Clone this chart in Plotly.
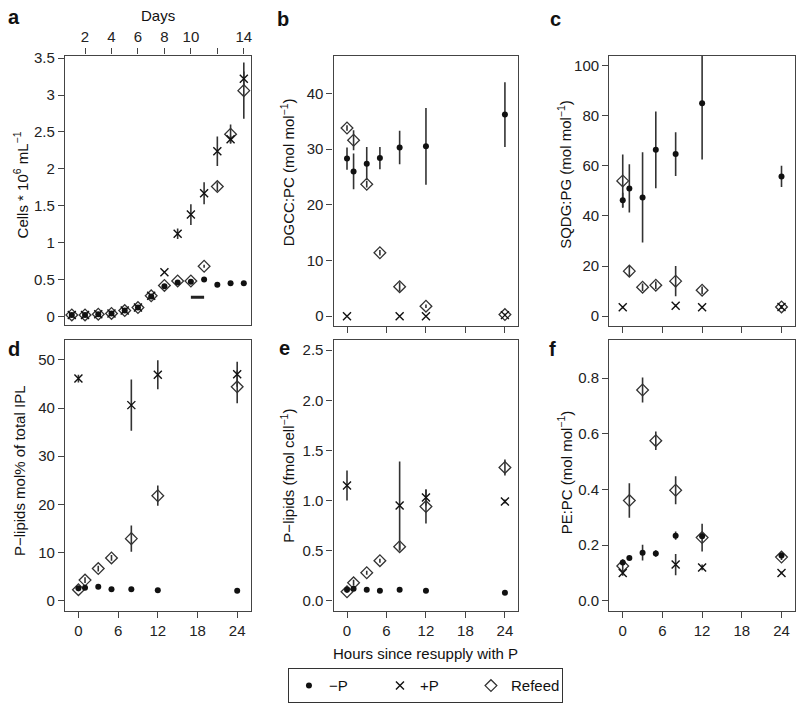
import plotly.graph_objects as go

W, H = 797, 710

# ---------------- data ----------------
days = [1, 2, 3, 4, 5, 6, 7, 8, 9, 10, 11, 12, 13, 14]
a_minusP = [0.02, 0.02, 0.03, 0.04, 0.08, 0.12, 0.27, 0.41, 0.46, 0.47, 0.50, 0.43, 0.45, 0.45]
a_minusP_err = [0, 0, 0, 0, 0, 0, 0.01, 0.01, 0.01, 0.01, 0.01, 0.01, 0.01, 0.01]
a_plusP = [0.02, 0.02, 0.03, 0.04, 0.08, 0.12, 0.28, 0.60, 1.12, 1.38, 1.67, 2.24, 2.40, 3.22]
a_plusP_err = [0, 0, 0, 0, 0.02, 0.02, 0.02, 0.01, 0.07, 0.14, 0.15, 0.20, 0.05, 0.10]
a_refeed = [0.02, 0.02, 0.03, 0.04, 0.08, 0.12, 0.28, 0.42, 0.48, 0.48, 0.68, 1.76, 2.47, 3.06]
a_refeed_err = [0, 0, 0, 0, 0, 0, 0.01, 0.01, 0.01, 0.01, 0.02, 0.06, 0.13, 0.38]
resupply_days = [10, 11]
resupply_level = [0.26, 0.26]
day_ticks = [2, 4, 6, 8, 10, 14]
day_minor_ticks = [12]

hours = [0, 1, 3, 5, 8, 12, 24]
hours_plusP = [0, 8, 12, 24]
hour_ticks = [0, 6, 12, 18, 24]

b_minusP = [28.3, 26.0, 27.4, 28.4, 30.3, 30.5, 36.2]
b_minusP_err = [2.0, 3.2, 3.0, 2.0, 3.0, 6.9, 5.8]
b_plusP = [0.0, 0.0, 0.0, 0.2]
b_plusP_err = [0, 0, 0, 0]
b_refeed = [33.8, 31.6, 23.7, 11.4, 5.3, 1.8, 0.3]
b_refeed_err = [0.5, 1.8, 0.6, 0.5, 0.8, 0.3, 0.2]

c_minusP = [46.3, 51.0, 47.4, 66.4, 64.7, 85.0, 55.8]
c_minusP_err = [3.0, 9.6, 18.0, 15.3, 8.7, 22.5, 4.2]
c_plusP = [3.6, 4.2, 3.6, 3.7]
c_plusP_err = [0.5, 0.5, 0.5, 0.5]
c_refeed = [54.0, 18.0, 11.6, 12.4, 14.0, 10.4, 3.7]
c_refeed_err = [10.5, 2.0, 1.5, 1.5, 6.0, 1.5, 0.8]

d_minusP = [2.6, 2.7, 2.9, 2.4, 2.4, 2.2, 2.1]
d_minusP_err = [0.2, 0.2, 0.2, 0.2, 0.2, 0.2, 0.2]
d_plusP = [46.1, 40.6, 46.9, 47.0]
d_plusP_err = [0.8, 5.3, 3.0, 2.6]
d_refeed = [2.3, 4.3, 6.7, 8.9, 12.9, 21.8, 44.4]
d_refeed_err = [0.3, 0.6, 0.6, 0.6, 2.7, 2.1, 3.4]

e_minusP = [0.11, 0.12, 0.11, 0.10, 0.11, 0.10, 0.08]
e_minusP_err = [0.005] * 7
e_plusP = [1.15, 0.95, 1.03, 0.99]
e_plusP_err = [0.15, 0.44, 0.08, 0.02]
e_refeed = [0.09, 0.18, 0.28, 0.40, 0.54, 0.94, 1.33]
e_refeed_err = [0.01, 0.03, 0.02, 0.02, 0.04, 0.17, 0.08]

f_minusP = [0.138, 0.154, 0.173, 0.170, 0.234, 0.232, 0.163]
f_minusP_err = [0.01, 0.005, 0.028, 0.012, 0.015, 0.01, 0.01]
f_plusP = [0.100, 0.130, 0.120, 0.100]
f_plusP_err = [0.01, 0.038, 0.01, 0.005]
f_refeed = [0.125, 0.36, 0.757, 0.575, 0.397, 0.227, 0.157]
f_refeed_err = [0.02, 0.062, 0.045, 0.033, 0.05, 0.05, 0.01]

series_names = ["\u2212P", "+P", "Refeed"]

# ---------------- helpers ----------------
def px_x(p):
    return p / W

def px_y(p):
    return 1 - p / H

FONT = "Liberation Sans, Arial, Helvetica, sans-serif"
INK = "#222222"
AX = "#444444"

STYLE = {
    "\u2212P": dict(symbol="circle", size=6, color="#111111", line=dict(width=0)),
    "+P": dict(symbol="x-thin-open", size=8, color="#111111", line=dict(width=1.4, color="#111111")),
    "Refeed": dict(symbol="diamond-open", size=9, color="#333333", line=dict(width=1.3, color="#333333")),
}

fig = go.Figure()

def add_series(xs, ys, errs, name, xa, ya, legend=False):
    fig.add_trace(go.Scatter(
        x=xs, y=ys, mode="markers", name=name,
        marker=STYLE[name],
        error_y=dict(type="data", array=errs, visible=True, thickness=1.6, width=0, color="#333333"),
        xaxis=xa, yaxis=ya, showlegend=legend, cliponaxis=False,
    ))

# panel a
add_series(days, a_refeed, a_refeed_err, "Refeed", "x", "y")
add_series(days, a_plusP, a_plusP_err, "+P", "x", "y")
add_series(days, a_minusP, a_minusP_err, "\u2212P", "x", "y")
fig.add_trace(go.Scatter(x=resupply_days, y=resupply_level, mode="lines",
                         line=dict(color="#222222", width=3), xaxis="x", yaxis="y",
                         showlegend=False, hoverinfo="skip"))

panels = [
    ("x2", "y2", b_minusP, b_minusP_err, b_plusP, b_plusP_err, b_refeed, b_refeed_err),
    ("x3", "y3", c_minusP, c_minusP_err, c_plusP, c_plusP_err, c_refeed, c_refeed_err),
    ("x4", "y4", d_minusP, d_minusP_err, d_plusP, d_plusP_err, d_refeed, d_refeed_err),
    ("x5", "y5", e_minusP, e_minusP_err, e_plusP, e_plusP_err, e_refeed, e_refeed_err),
    ("x6", "y6", f_minusP, f_minusP_err, f_plusP, f_plusP_err, f_refeed, f_refeed_err),
]
for xa, ya, mv, me, pv, pe, rv, re_ in panels:
    add_series(hours, rv, re_, "Refeed", xa, ya)
    add_series(hours_plusP, pv, pe, "+P", xa, ya)
    add_series(hours, mv, me, "\u2212P", xa, ya)

# legend-only entries
for nm in series_names:
    fig.add_trace(go.Scatter(x=[None], y=[None], mode="markers", name=nm,
                             marker=STYLE[nm], xaxis="x2", yaxis="y2", showlegend=True))

# ---------------- axes ----------------
boxes = {
    1: (65, 251, 50, 322),
    2: (334, 519, 50, 323),
    3: (610, 796, 50, 323),
    4: (65, 251, 337, 610),
    5: (334, 519, 337, 610),
    6: (610, 796, 337, 610),
}
yranges = {1: [-0.12, 3.535], 2: [-1.8, 46.8], 3: [-4, 104], 4: [-2.08, 54.08], 5: [-0.1, 2.6], 6: [-0.036, 0.936]}
yticks = {
    1: ([0, 0.5, 1, 1.5, 2, 2.5, 3, 3.5], ["0", "0.5", "1", "1.5", "2", "2.5", "3", "3.5"]),
    2: ([0, 10, 20, 30, 40], ["0", "10", "20", "30", "40"]),
    3: ([0, 20, 40, 60, 80, 100], ["0", "20", "40", "60", "80", "100"]),
    4: ([0, 10, 20, 30, 40, 50], ["0", "10", "20", "30", "40", "50"]),
    5: ([0, 0.5, 1, 1.5, 2, 2.5], ["0.0", "0.5", "1.0", "1.5", "2.0", "2.5"]),
    6: ([0, 0.2, 0.4, 0.6, 0.8], ["0.0", "0.2", "0.4", "0.6", "0.8"]),
}
common = dict(showgrid=False, zeroline=False, showline=True, linecolor=AX, linewidth=1.2,
              mirror=True, ticks="outside", ticklen=6, tickwidth=1.2, tickcolor=AX,
              tickfont=dict(family=FONT, size=15, color=INK), fixedrange=True)

layout = {}
for k, (x0, x1, y0, y1) in boxes.items():
    xs = "xaxis" if k == 1 else f"xaxis{k}"
    ys = "yaxis" if k == 1 else f"yaxis{k}"
    yid = "y" if k == 1 else f"y{k}"
    xid = "x" if k == 1 else f"x{k}"
    if k == 1:
        xax = dict(common, domain=[px_x(x0), px_x(x1)], anchor=yid, side="top",
                   range=[0.48, 14.52], tickvals=day_ticks,
                   ticktext=[str(d) for d in day_ticks],
                   minor=dict(tickvals=day_minor_ticks, ticks="outside", ticklen=6,
                              tickwidth=1.2, tickcolor=AX, showgrid=False))
    else:
        xax = dict(common, domain=[px_x(x0), px_x(x1)], anchor=yid, range=[-2.04, 26.04],
                   tickvals=hour_ticks, ticktext=[str(h) for h in hour_ticks],
                   showticklabels=(k >= 4))
    yax = dict(common, domain=[px_y(y1), px_y(y0)], anchor=xid, range=yranges[k],
               tickvals=yticks[k][0], ticktext=yticks[k][1])
    layout[xs] = xax
    layout[ys] = yax

ann = []
def text(x, y, s, size=15, bold=False, angle=0, xanchor="center"):
    ann.append(dict(x=px_x(x), y=px_y(y), xref="paper", yref="paper", text=(f"<b>{s}</b>" if bold else s),
                    showarrow=False, textangle=angle, xanchor=xanchor, yanchor="middle",
                    font=dict(family=FONT, size=size, color="#111111")))

for lab, (x, y) in {"a": (14, 11), "b": (283, 13), "c": (556, 13), "d": (14, 346), "e": (285, 345), "f": (553, 346)}.items():
    text(x, y, lab, size=20, bold=True)

text(158, 10, "Days")
text(21, 180, "Cells * 10<sup>6</sup> mL<sup>\u22121</sup>", angle=-90)
text(288, 168, "DGCC:PC (mol mol<sup>\u22121</sup>)", angle=-90)
text(565, 170, "SQDG:PG (mol mol<sup>\u22121</sup>)", angle=-90)
text(19, 468, "P\u2212lipids mol% of total IPL", angle=-90)
text(288, 474, "P\u2212lipids (fmol cell<sup>\u22121</sup>)", angle=-90)
text(565, 470, "PE:PC (mol mol<sup>\u22121</sup>)", angle=-90)
text(426, 653, "Hours since resupply with P")

fig.update_layout(
    width=W, height=H, margin=dict(l=0, r=0, t=0, b=0),
    paper_bgcolor="white", plot_bgcolor="white",
    annotations=ann,
    legend=dict(orientation="h", x=px_x(426), xanchor="center", y=px_y(668), yanchor="top",
                bordercolor="#333333", borderwidth=1, bgcolor="white",
                font=dict(family=FONT, size=15, color="#111111"),
                entrywidth=46, itemwidth=30, traceorder="normal"),
    **layout,
)

fig.write_html("out.html", config={"displayModeBar": False},
               post_script="document.body.style.margin='0px';document.body.style.overflow='hidden';")
